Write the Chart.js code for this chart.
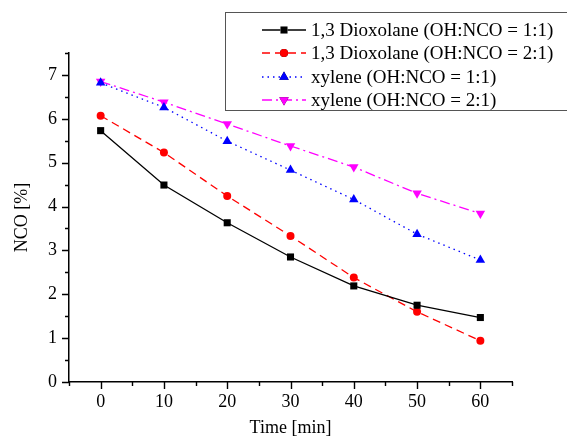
<!DOCTYPE html>
<html>
<head>
<meta charset="utf-8">
<script src="https://cdn.jsdelivr.net/npm/chart.js@4"></script>
<style>
  html, body { margin: 0; padding: 0; background: #fff; }
  canvas { display: block; }
</style>
</head>
<body>
<canvas id="chart" width="567" height="441"></canvas>
<script>
// data
const times = [0, 10, 20, 30, 40, 50, 60];
const dioxolane11 = [5.73, 4.49, 3.63, 2.85, 2.19, 1.75, 1.47];
const dioxolane21 = [6.07, 5.23, 4.24, 3.33, 2.38, 1.60, 0.94];
const xylene11 = [6.82, 6.26, 5.49, 4.83, 4.16, 3.37, 2.78];
const xylene21 = [6.85, 6.38, 5.88, 5.38, 4.90, 4.30, 3.84];
const labels = [
    '1,3 Dioxolane (OH:NCO = 1:1)',
    '1,3 Dioxolane (OH:NCO = 2:1)',
    'xylene (OH:NCO = 1:1)',
    'xylene (OH:NCO = 2:1)'
];

const FONT = "'Liberation Serif', 'Times New Roman', serif";

function pts(ys) {
    return times.map((t, i) => ({ x: t, y: ys[i] }));
}

function series(label, ys, color, dash, style, radius, rot) {
    return {
        label,
        data: pts(ys),
        borderColor: color,
        backgroundColor: color,
        borderWidth: 1.3,
        borderDash: dash,
        pointStyle: style,
        pointRadius: radius,
        pointRotation: rot || 0,
        pointBorderWidth: 0,
        pointHoverRadius: radius,
        tension: 0
    };
}

// minor/major ticks + legend box
const decorPlugin = {
    id: 'decor',
    afterDraw(chart) {
        const ctx = chart.ctx;
        const xs = chart.scales.x, ys = chart.scales.y;
        const area = chart.chartArea;
        ctx.save();
        ctx.strokeStyle = '#000';
        ctx.lineWidth = 1.4;
        ctx.beginPath();
        for (let v = -5; v <= 65; v += 5) {
            const px = Math.round(xs.getPixelForValue(v)) + 0.5;
            const len = (v >= 0 && v % 10 === 0) ? 7 : 4;
            ctx.moveTo(px, area.bottom);
            ctx.lineTo(px, area.bottom + len);
        }
        for (let v = 0; v <= 7.5; v += 0.5) {
            const py = Math.round(ys.getPixelForValue(v)) + 0.5;
            const len = Number.isInteger(v) ? 7 : 4;
            ctx.moveTo(area.left, py);
            ctx.lineTo(area.left - len, py);
        }
        ctx.stroke();

        // legend
        const bx = 225.5, by = 12.5, bh = 98;
        ctx.fillStyle = '#fff';
        ctx.fillRect(bx, by, 567 - bx + 5, bh);
        ctx.strokeStyle = '#555';
        ctx.lineWidth = 1;
        ctx.strokeRect(bx, by, 567 - bx + 5, bh);
        const rows = [30, 53, 77, 100];
        chart.data.datasets.forEach((ds, i) => {
            const y = rows[i];
            ctx.save();
            ctx.strokeStyle = ds.borderColor;
            ctx.lineWidth = ds.borderWidth;
            ctx.setLineDash(ds.borderDash || []);
            ctx.beginPath();
            ctx.moveTo(262, y);
            ctx.lineTo(306, y);
            ctx.stroke();
            ctx.restore();
            Chart.helpers.drawPoint(ctx, {
                pointStyle: ds.pointStyle,
                radius: ds.pointRadius,
                rotation: ds.pointRotation,
                borderWidth: 0
            }, 284, y);
            ctx.fillStyle = ds.backgroundColor;
            ctx.fill();
            ctx.fillStyle = '#000';
            ctx.font = '19px ' + FONT;
            ctx.textBaseline = 'middle';
            ctx.textAlign = 'left';
            ctx.fillText(ds.label, 311, y + 1);
        });
        ctx.restore();
    }
};

new Chart(document.getElementById('chart'), {
    type: 'line',
    data: {
        datasets: [
            series(labels[0], dioxolane11, '#000000', [], 'rect', 5),
            series(labels[1], dioxolane21, '#ff0000', [8, 5], 'circle', 4),
            series(labels[2], xylene11, '#0000ff', [1.5, 4], 'triangle', 5.5),
            series(labels[3], xylene21, '#ff00ff', [10, 4, 2, 4], 'triangle', 5.5, 180)
        ]
    },
    options: {
        responsive: false,
        animation: false,
        layout: { padding: { top: 53, right: 55, left: 0, bottom: 0 } },
        plugins: {
            legend: { display: false },
            tooltip: { enabled: false }
        },
        scales: {
            x: {
                type: 'linear',
                min: -5,
                max: 65,
                afterFit(scale) { scale.height = 59; },
                grid: { display: true, drawOnChartArea: false, drawTicks: false },
                border: { display: true, color: '#000', width: 1.5 },
                ticks: {
                    stepSize: 5,
                    autoSkip: false,
                    maxRotation: 0,
                    padding: 9,
                    color: '#000',
                    font: { family: FONT, size: 18 },
                    callback: v => (v >= 0 && v % 10 === 0) ? String(v) : ''
                },
                title: {
                    display: true,
                    text: 'Time [min]',
                    color: '#000',
                    font: { family: FONT, size: 18 },
                    padding: { top: 0, bottom: 2 }
                }
            },
            y: {
                min: 0,
                max: 7.5,
                afterFit(scale) { scale.width = 69; },
                grid: { display: true, drawOnChartArea: false, drawTicks: false },
                border: { display: true, color: '#000', width: 1.5 },
                ticks: {
                    stepSize: 0.5,
                    autoSkip: false,
                    padding: 12,
                    color: '#000',
                    font: { family: FONT, size: 18 },
                    callback: v => Number.isInteger(v) ? String(v) : ''
                },
                title: {
                    display: true,
                    text: 'NCO [%]',
                    color: '#000',
                    font: { family: FONT, size: 18 },
                    padding: { top: 11, bottom: 0 }
                }
            }
        }
    },
    plugins: [decorPlugin]
});
</script>
</body>
</html>
